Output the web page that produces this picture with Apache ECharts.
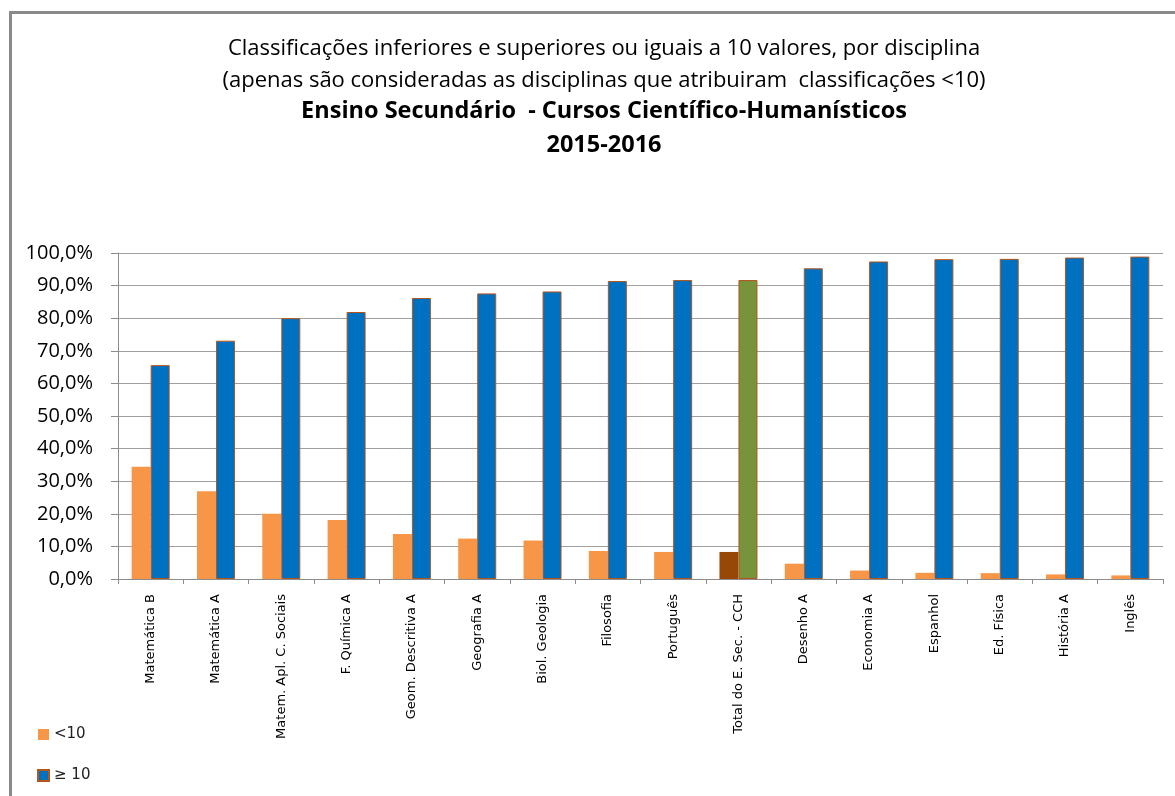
<!DOCTYPE html>
<html lang="pt">
<head>
    <meta charset="UTF-8">
    <title>Classificações por disciplina</title>
    <style>
        * {
            margin: 0;
            padding: 0;
        }

        html, body {
            height: 100%;
            width: 100%;
            background: #fff;
        }

        #frame {
            position: absolute;
            left: 9px;
            top: 11px;
            right: -10px;
            bottom: -10px;
            border-left: 3px solid #8a8a8a;
            border-top: 3px solid #8a8a8a;
        }
    </style>
    <script src="https://cdn.jsdelivr.net/npm/echarts@6/dist/echarts.min.js"></script>
</head>
<body>

<div id="frame"></div>
<div id="main" style="position:absolute;left:0;top:0;width: 1175px;height: 796px;"></div>

<script>
    // disciplinas (eixo x)
    var disciplinas = ['Matemática B', 'Matemática A', 'Matem. Apl. C. Sociais', 'F. Química A',
        'Geom. Descritiva A', 'Geografia A', 'Biol. Geologia', 'Filosofia', 'Português',
        'Total do E. Sec. - CCH', 'Desenho A', 'Economia A', 'Espanhol', 'Ed. Física',
        'História A', 'Inglês'];

    // percentagens
    var inferior10 = [34.4, 26.9, 20.0, 18.1, 13.8, 12.4, 11.8, 8.6, 8.3, 8.3, 4.7, 2.6, 1.9, 1.8, 1.4, 1.1];
    var superior10 = [65.6, 73.1, 80.0, 81.9, 86.2, 87.6, 88.2, 91.4, 91.7, 91.7, 95.3, 97.4, 98.1, 98.2, 98.6, 98.9];

    var totalIdx = disciplinas.indexOf('Total do E. Sec. - CCH');

    var myChart = echarts.init(document.getElementById('main'));

    var option = {
        animation: false,
        title: [
            {
                text: 'Classificações inferiores e superiores ou iguais a 10 valores, por disciplina\n(apenas são consideradas as disciplinas que atribuiram  classificações <10)',
                left: 599,
                textAlign: 'center',
                top: 28,
                textStyle: {
                    fontFamily: 'Open Sans',
                    fontSize: 22,
                    fontWeight: 'normal',
                    color: '#000',
                    lineHeight: 32
                }
            },
            {
                text: 'Ensino Secundário  - Cursos Científico-Humanísticos\n2015-2016',
                left: 599,
                textAlign: 'center',
                top: 89,
                textStyle: {
                    fontFamily: 'Open Sans',
                    fontSize: 23.5,
                    fontWeight: 'bold',
                    color: '#000',
                    lineHeight: 34
                }
            }
        ],
        legend: {
            orient: 'vertical',
            left: 32,
            top: 722,
            itemWidth: 11,
            itemHeight: 11,
            itemGap: 26,
            icon: 'rect',
            textStyle: {
                fontFamily: 'DejaVu Sans',
                fontSize: 15,
                color: '#222'
            },
            data: ['<10', '≥ 10']
        },
        grid: {
            left: 118,
            right: 12,
            top: 253,
            bottom: 217
        },
        xAxis: {
            type: 'category',
            data: disciplinas,
            axisLine: {lineStyle: {color: '#8c8c8c', width: 1}},
            axisTick: {show: true, length: 5, lineStyle: {color: '#8c8c8c'}},
            axisLabel: {
                rotate: 90,
                interval: 0,
                margin: 15,
                fontFamily: 'DejaVu Sans',
                fontSize: 13,
                color: '#000'
            }
        },
        yAxis: {
            type: 'value',
            min: 0,
            max: 100,
            interval: 10,
            axisLine: {show: true, lineStyle: {color: '#8c8c8c', width: 1}},
            axisTick: {show: true, length: 7, lineStyle: {color: '#8c8c8c'}},
            splitLine: {lineStyle: {color: '#a0a0a0', width: 1.2}},
            axisLabel: {
                margin: 25,
                fontFamily: 'Open Sans',
                fontSize: 20,
                color: '#000',
                formatter: function (v) {
                    return v.toFixed(1).replace('.', ',') + '%';
                }
            }
        },
        series: [
            {
                name: '<10',
                type: 'bar',
                barWidth: 19,
                barGap: '0%',
                itemStyle: {color: '#f79646'},
                data: inferior10.map(function (v, i) {
                    return i === totalIdx ? {value: v, itemStyle: {color: '#974706'}} : v;
                })
            },
            {
                name: '≥ 10',
                type: 'bar',
                barWidth: 19,
                barGap: '0%',
                itemStyle: {color: '#0070c0', borderColor: '#b2561c', borderWidth: 1},
                data: superior10.map(function (v, i) {
                    return i === totalIdx ? {value: v, itemStyle: {color: '#77933c'}} : v;
                })
            }
        ]
    };
    myChart.setOption(option);
</script>

</body>
</html>
